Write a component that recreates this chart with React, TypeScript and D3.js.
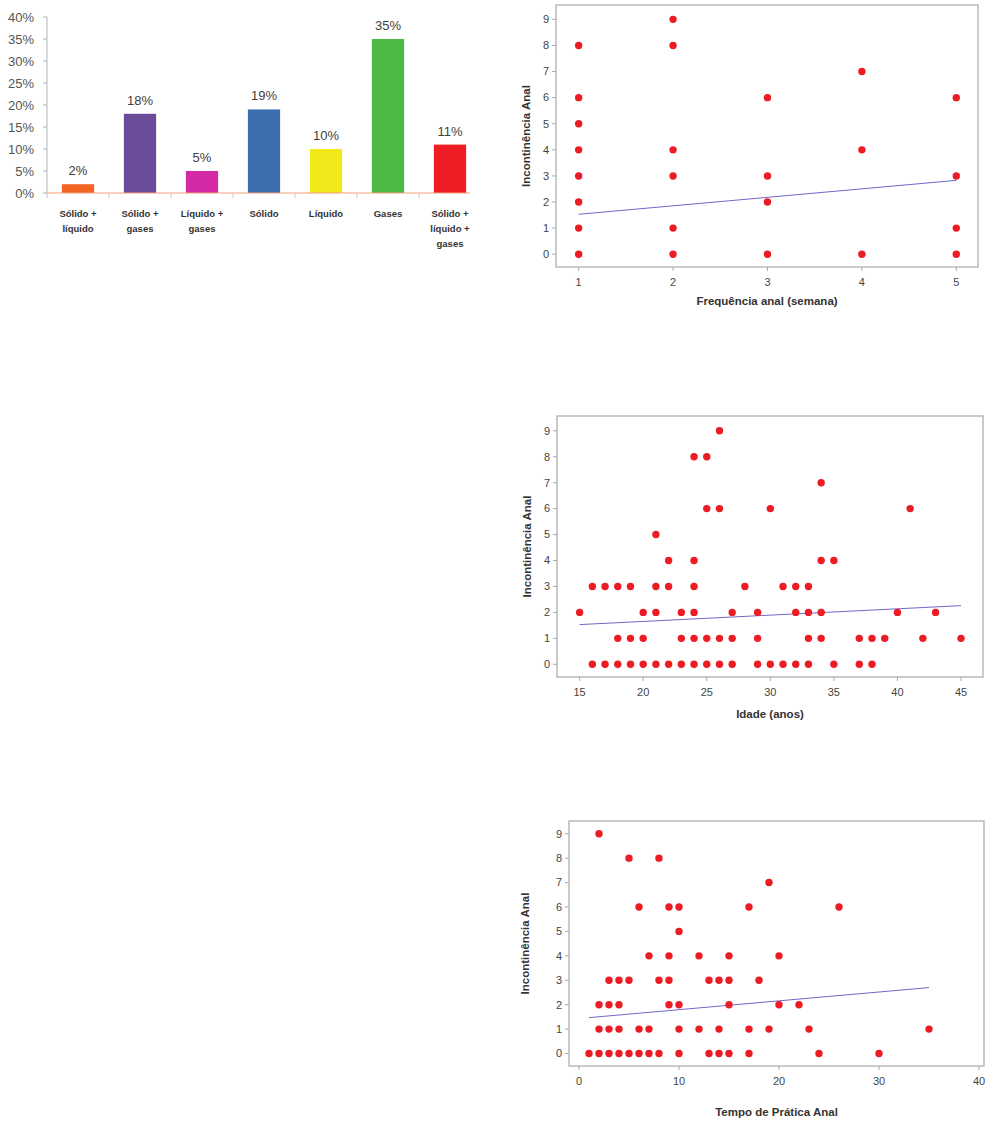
import * as d3 from "d3";

// ---- bar chart data ----
const barLabels = [
  ["Sólido +", "líquido"],
  ["Sólido +", "gases"],
  ["Líquido +", "gases"],
  ["Sólido"],
  ["Líquido"],
  ["Gases"],
  ["Sólido +", "líquido +", "gases"],
];
const barValues = [0.02, 0.18, 0.05, 0.19, 0.1, 0.35, 0.11];
const barColors = ["#f26522", "#6b4c9a", "#d42aa6", "#3d6fb0", "#f2e81a", "#4cb944", "#ee1c25"];
const barTicks = [0, 0.05, 0.1, 0.15, 0.2, 0.25, 0.3, 0.35, 0.4];

// ---- scatter 1: frequência anal ----
const freqX = [1, 1, 1, 1, 1, 1, 1, 1, 2, 2, 2, 2, 2, 2, 3, 3, 3, 3, 4, 4, 4, 5, 5, 5, 5];
const freqY = [0, 1, 2, 3, 4, 5, 6, 8, 0, 1, 3, 4, 8, 9, 0, 2, 3, 6, 0, 4, 7, 0, 1, 3, 6];
const freqFitX = [1, 5];
const freqFitY = [1.53, 2.83];
const freqTicks = [1, 2, 3, 4, 5];

// ---- scatter 2: idade ----
const ageX = [
  26,
  24, 25,
  34,
  25, 26, 30, 41,
  21,
  22, 24, 34, 35,
  16, 17, 18, 19, 21, 22, 24, 28, 31, 32, 33,
  15, 20, 21, 23, 24, 27, 29, 32, 33, 34, 40, 43,
  18, 19, 20, 23, 24, 25, 26, 27, 29, 33, 34, 37, 38, 39, 42, 45,
  16, 17, 18, 19, 20, 21, 22, 23, 24, 25, 26, 27, 29, 30, 31, 32, 33, 35, 37, 38,
];
const ageY = [
  9,
  8, 8,
  7,
  6, 6, 6, 6,
  5,
  4, 4, 4, 4,
  3, 3, 3, 3, 3, 3, 3, 3, 3, 3, 3,
  2, 2, 2, 2, 2, 2, 2, 2, 2, 2, 2, 2,
  1, 1, 1, 1, 1, 1, 1, 1, 1, 1, 1, 1, 1, 1, 1, 1,
  0, 0, 0, 0, 0, 0, 0, 0, 0, 0, 0, 0, 0, 0, 0, 0, 0, 0, 0, 0,
];
const ageFitX = [15, 45];
const ageFitY = [1.53, 2.26];
const ageTicks = [15, 20, 25, 30, 35, 40, 45];

// ---- scatter 3: tempo de prática ----
const timeX = [
  2,
  5, 8,
  19,
  6, 9, 10, 17, 26,
  10,
  7, 9, 12, 15, 20,
  3, 4, 5, 8, 9, 13, 14, 15, 18,
  2, 3, 4, 9, 10, 15, 20, 22,
  2, 3, 4, 6, 7, 10, 12, 14, 17, 19, 23, 35,
  1, 2, 3, 4, 5, 6, 7, 8, 10, 13, 14, 15, 17, 24, 30,
];
const timeY = [
  9,
  8, 8,
  7,
  6, 6, 6, 6, 6,
  5,
  4, 4, 4, 4, 4,
  3, 3, 3, 3, 3, 3, 3, 3, 3,
  2, 2, 2, 2, 2, 2, 2, 2,
  1, 1, 1, 1, 1, 1, 1, 1, 1, 1, 1, 1,
  0, 0, 0, 0, 0, 0, 0, 0, 0, 0, 0, 0, 0, 0, 0,
];
const timeFitX = [1, 35];
const timeFitY = [1.47, 2.7];
const timeTicks = [0, 10, 20, 30, 40];

const yLevels = [0, 1, 2, 3, 4, 5, 6, 7, 8, 9];

const tickFont = "'Liberation Sans', Arial, sans-serif";

function BarChart() {
  const left = 47;
  const axisEnd = 470;
  const x = d3
    .scaleBand<number>()
    .domain(d3.range(barValues.length))
    .range([left, left + 62 * barValues.length])
    .paddingInner(0.48)
    .paddingOuter(0.24);
  const y = d3.scaleLinear().domain([0, 0.4]).range([193, 17]);
  const step = x.step();
  const fmt = d3.format(".0%");

  return (
    <g>
      {/* y axis */}
      <line x1={left} x2={left} y1={y(0.4)} y2={y(0)} stroke="#b3b3b3" />
      {barTicks.map((t) => (
        <g key={t}>
          <line x1={left - 4} x2={left} y1={y(t)} y2={y(t)} stroke="#b3b3b3" />
          <text
            x={left - 13}
            y={y(t)}
            dy="0.35em"
            textAnchor="end"
            fontFamily={tickFont}
            fontSize={13}
            fill="#555"
          >
            {fmt(t)}
          </text>
        </g>
      ))}
      {/* bars */}
      {barValues.map((v, i) => (
        <g key={i}>
          <rect x={x(i)} y={y(v)} width={x.bandwidth()} height={y(0) - y(v)} fill={barColors[i]} />
          <text
            x={(x(i) || 0) + x.bandwidth() / 2}
            y={y(v) - 9}
            textAnchor="middle"
            fontFamily={tickFont}
            fontSize={13}
            fill="#404040"
          >
            {fmt(v)}
          </text>
        </g>
      ))}
      {/* x axis */}
      <line x1={left} x2={axisEnd} y1={y(0)} y2={y(0)} stroke="#f4a07a" strokeWidth={1.2} />
      {d3
        .range(barValues.length + 1)
        .filter((i) => left + i * step <= axisEnd)
        .map((i) => (
          <line
            key={i}
            x1={left + i * step}
            x2={left + i * step}
            y1={y(0)}
            y2={y(0) + 5}
            stroke="#c8c8c8"
          />
        ))}
      {barLabels.map((lines, i) => (
        <text
          key={i}
          x={(x(i) || 0) + x.bandwidth() / 2}
          y={217}
          textAnchor="middle"
          fontFamily={tickFont}
          fontWeight="bold"
          fontSize={9.5}
          fill="#333"
        >
          {lines.map((l, j) => (
            <tspan key={j} x={(x(i) || 0) + x.bandwidth() / 2} dy={j === 0 ? 0 : 15}>
              {l}
            </tspan>
          ))}
        </text>
      ))}
    </g>
  );
}

interface ScatterProps {
  left: number;
  top: number;
  right: number;
  bottom: number;
  xDomain: [number, number];
  yDomain: [number, number];
  xTicks: number[];
  xs: number[];
  ys: number[];
  fitX: number[];
  fitY: number[];
  xTitle: string;
  xTitleOffset: number;
  yTitleOffset: number;
}

function Scatter(p: ScatterProps) {
  const x = d3.scaleLinear().domain(p.xDomain).range([p.left, p.right]);
  const y = d3.scaleLinear().domain(p.yDomain).range([p.bottom, p.top]);
  const line = d3
    .line<number>()
    .x((d) => x(p.fitX[d]))
    .y((d) => y(p.fitY[d]));
  const cy = (p.top + p.bottom) / 2;
  const cx = (p.left + p.right) / 2;

  return (
    <g>
      <rect
        x={p.left}
        y={p.top}
        width={p.right - p.left}
        height={p.bottom - p.top}
        fill="none"
        stroke="#a8a8a8"
        strokeWidth={1.2}
      />
      {yLevels.map((t) => (
        <g key={t}>
          <line x1={p.left - 4} x2={p.left} y1={y(t)} y2={y(t)} stroke="#a8a8a8" />
          <text
            x={p.left - 10}
            y={y(t)}
            dy="0.35em"
            textAnchor="middle"
            fontFamily={tickFont}
            fontSize={11}
            fill="#444"
          >
            {t}
          </text>
        </g>
      ))}
      {p.xTicks.map((t) => (
        <g key={t}>
          <line x1={x(t)} x2={x(t)} y1={p.bottom} y2={p.bottom + 4} stroke="#a8a8a8" />
          <text
            x={x(t)}
            y={p.bottom + 15}
            dy="0.35em"
            textAnchor="middle"
            fontFamily={tickFont}
            fontSize={11}
            fill="#444"
          >
            {t}
          </text>
        </g>
      ))}
      <path d={line(d3.range(p.fitX.length)) || ""} fill="none" stroke="#7466c8" strokeWidth={1} />
      {p.xs.map((xv, i) => (
        <circle key={i} cx={x(xv)} cy={y(p.ys[i])} r={3.7} fill="#ec1c24" />
      ))}
      <text
        x={cx}
        y={p.bottom + p.xTitleOffset}
        dy="0.35em"
        textAnchor="middle"
        fontFamily={tickFont}
        fontWeight="bold"
        fontSize={11.5}
        fill="#333"
      >
        {p.xTitle}
      </text>
      <text
        transform={`translate(${p.left + p.yTitleOffset},${cy}) rotate(-90)`}
        dy="0.35em"
        textAnchor="middle"
        fontFamily={tickFont}
        fontWeight="bold"
        fontSize={11.5}
        fill="#333"
      >
        Incontinência Anal
      </text>
    </g>
  );
}

export default function App() {
  return (
    <svg
      width={988}
      height={1133}
      style={{ position: "absolute", left: 0, top: 0, background: "#fff" }}
    >
      <BarChart />
      <Scatter
        left={556}
        top={5}
        right={978}
        bottom={267}
        xDomain={[0.76, 5.23]}
        yDomain={[-0.49, 9.55]}
        xTicks={freqTicks}
        xs={freqX}
        ys={freqY}
        fitX={freqFitX}
        fitY={freqFitY}
        xTitle="Frequência anal (semana)"
        xTitleOffset={34}
        yTitleOffset={-30}
      />
      <Scatter
        left={557}
        top={416}
        right={983}
        bottom={677}
        xDomain={[13.22, 46.73]}
        yDomain={[-0.49, 9.57]}
        xTicks={ageTicks}
        xs={ageX}
        ys={ageY}
        fitX={ageFitX}
        fitY={ageFitY}
        xTitle="Idade (anos)"
        xTitleOffset={36.5}
        yTitleOffset={-30}
      />
      <Scatter
        left={569}
        top={821}
        right={984}
        bottom={1066}
        xDomain={[-1.0, 40.5]}
        yDomain={[-0.51, 9.52]}
        xTicks={timeTicks}
        xs={timeX}
        ys={timeY}
        fitX={timeFitX}
        fitY={timeFitY}
        xTitle="Tempo de Prática Anal"
        xTitleOffset={45.5}
        yTitleOffset={-44}
      />
    </svg>
  );
}
